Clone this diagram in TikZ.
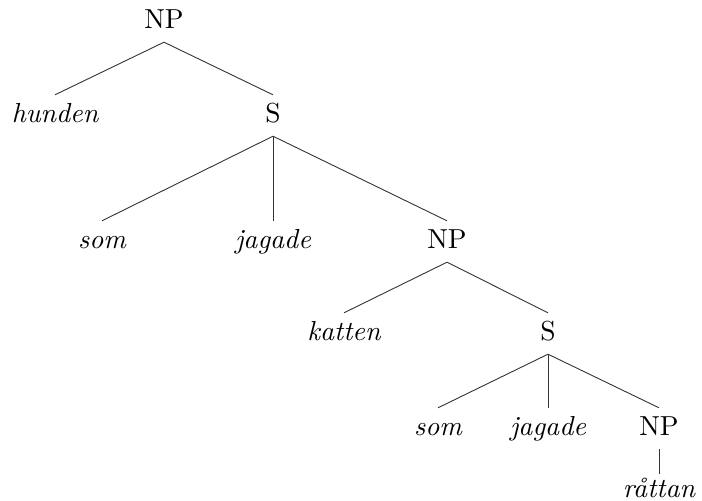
\documentclass[tikz,border=0pt]{standalone}
\usepackage{fontspec}
\setmainfont{lmroman10-regular.otf}[ItalicFont=lmroman10-italic.otf]
\begin{document}
\begin{tikzpicture}[x=1pt,y=-1pt,
  lbl/.style={anchor=base, inner sep=0pt, text height=27pt, text depth=14pt, font=\fontsize{27.5}{32}\selectfont},
  lex/.style={lbl, font=\fontsize{27.5}{32}\selectfont\itshape},
  edge/.style={draw=black!80, line width=0.9pt}]
\useasboundingbox (0,0) rectangle (702,501);
\node[lbl] (np1) at (164,28) {NP};
\node[lex] (hunden) at (55,122) {hunden};
\node[lbl] (s1) at (273,122) {S};
\node[lex] (som1) at (102,248) {som};
\node[lex] (jagade1) at (273,248) {jagade};
\node[lbl] (np2) at (447,248) {NP};
\node[lex] (katten) at (344,340) {katten};
\node[lbl] (s2) at (548,340) {S};
\node[lex] (som2) at (438,435) {som};
\node[lex] (jagade2) at (548,435) {jagade};
\node[lbl] (np3) at (659,435) {NP};
\node[lex] (rattan) at (659,497) {råttan};
\draw[edge] (np1.south) -- (hunden.north);
\draw[edge] (np1.south) -- (s1.north);
\draw[edge] (s1.south) -- (som1.north);
\draw[edge] (s1.south) -- (jagade1.north);
\draw[edge] (s1.south) -- (np2.north);
\draw[edge] (np2.south) -- (katten.north);
\draw[edge] (np2.south) -- (s2.north);
\draw[edge] (s2.south) -- (som2.north);
\draw[edge] (s2.south) -- (jagade2.north);
\draw[edge] (s2.south) -- (np3.north);
\draw[edge] (np3.south) -- ([yshift=-4pt]rattan.north);
\end{tikzpicture}
\end{document}
